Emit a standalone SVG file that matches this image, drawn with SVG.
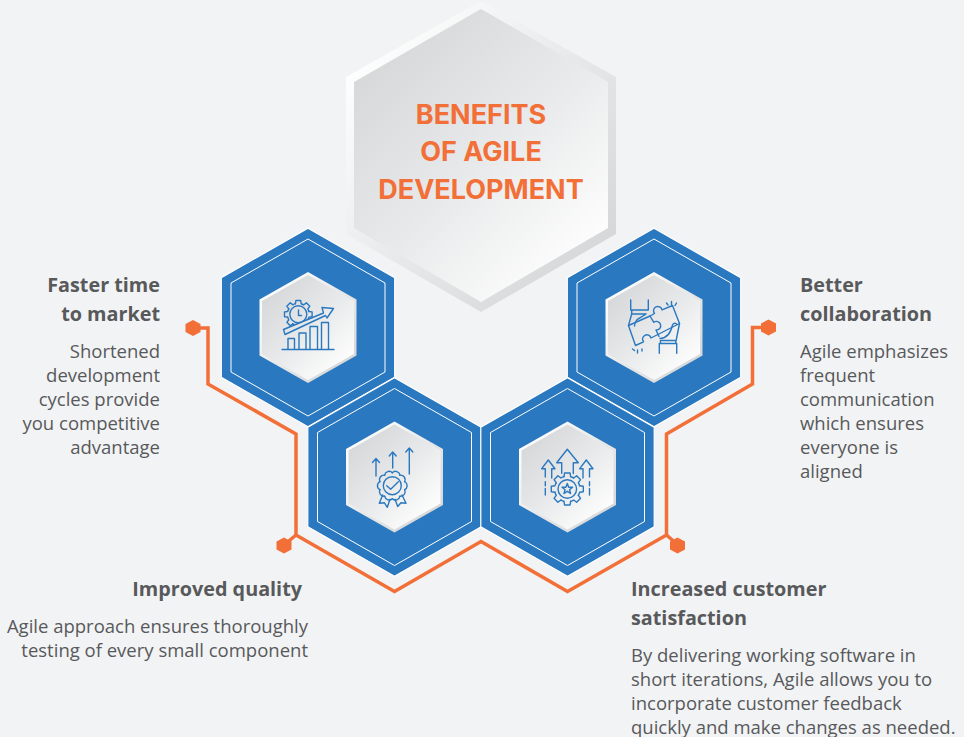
<svg xmlns="http://www.w3.org/2000/svg" xmlns:xlink="http://www.w3.org/1999/xlink" width="964" height="737" viewBox="0 0 964 737">
<style>
text{font-family:"Open Sans","Liberation Sans",sans-serif;fill:#58595b}
.h{font-size:19.800px;font-weight:700}
.b{font-size:18.500px}
.e{text-anchor:end}
.t{font-family:Inter,"Open Sans",sans-serif;font-size:27px;font-weight:700;fill:#f26f37;text-anchor:middle}
.i{fill:none;stroke:#2a78bf;stroke-width:1.400;stroke-linejoin:round;stroke-linecap:round}
.c{fill:none;stroke:#f26f37;stroke-width:3.500;stroke-linejoin:miter}
.d{fill:#f26f37}
</style>
<defs>
<linearGradient id="frame" x1="0.1" y1="0.1" x2="0.9" y2="0.9"><stop offset="0" stop-color="#ffffff"/><stop offset="0.55" stop-color="#e6e7e9"/><stop offset="1" stop-color="#d5d6d8"/></linearGradient>
<linearGradient id="face" x1="0.12" y1="0.1" x2="0.85" y2="0.95"><stop offset="0" stop-color="#d6d7d9"/><stop offset="0.5" stop-color="#e8e9ea"/><stop offset="1" stop-color="#ffffff"/></linearGradient>
<g id="blue">
<polygon points="0,-99.200 86.700,-49.800 86.700,49.800 0,99.200 -86.700,49.800 -86.700,-49.800" fill="#2a78bf" stroke="#ffffff" stroke-width="1.200"/>
<polygon points="0,-88.500 77,-44.500 77,44.500 0,88.500 -77,44.500 -77,-44.500" fill="none" stroke="#ffffff" stroke-width="1"/>
<polygon points="0,-55.500 48.500,-28 48.500,28 0,55.500 -48.500,28 -48.500,-28" fill="url(#frame)"/>
<polygon points="0,-52.500 46,-26.500 46,26.500 0,52.500 -46,26.500 -46,-26.500" fill="url(#face)"/>
</g>
<polygon id="dot" class="d" points="0,-8 7.500,-4 7.500,4 0,8 -7.500,4 -7.500,-4"/>
<path id="tooth" d="M10.600-2.850L13.800-2.400V2.400L10.600 2.850A11 11 0 0 1 9.530 5.500"/>
<g id="gear"><use href="#tooth"/><use href="#tooth" transform="rotate(45)"/><use href="#tooth" transform="rotate(90)"/><use href="#tooth" transform="rotate(135)"/><use href="#tooth" transform="rotate(180)"/><use href="#tooth" transform="rotate(225)"/><use href="#tooth" transform="rotate(270)"/><use href="#tooth" transform="rotate(315)"/></g>
<path id="sc" d="M12.360-4.020A4.500 4.500 0 0 1 12.360 4.020"/>
<clipPath id="gearclip"><polygon points="270,290 330,290 323.500,313 283.500,329.500 270,335"/></clipPath>
</defs>
<rect width="964" height="737" fill="#f2f3f5"/>
<g id="connectors">
<path class="c" d="M193 328H208V384L296 434V535L394.500 591.500L481 541.500L567.500 591.500L666.500 535V434L752.500 384V327.500H768"/>
<path class="c" d="M296 535L284 545M666.500 535L678 545"/>
</g>
<g id="center">
<polygon points="481,1 616,77 616,234 481,312 346,234 346,77" fill="url(#frame)"/>
<polygon points="481,9 608,82 608,228 481,302 354,228 354,82" fill="url(#face)"/>
<text class="t" x="481" y="124">BENEFITS</text>
<text class="t" x="481" y="161">OF AGILE</text>
<text class="t" x="481" y="199">DEVELOPMENT</text>
</g>
<g id="node-speed">
<use href="#blue" x="308" y="327.500"/>
<g class="i">
<path d="M282 349.500H334"/>
<path d="M288 349V338.500H294.500V349M299 349V333H306V349M310 349V326.500H317.500V349M321.500 349V322.500H328.500V349"/>
<path d="M283.500 329.500L323.500 313L322 307.500L333.500 308.500L327 318L325.500 315.500L285 334.500Z"/>
<g clip-path="url(#gearclip)"><use href="#gear" transform="translate(298.300 314.300)"/><circle cx="298.300" cy="314.300" r="8.500"/></g>
<path d="M298.500 310V315.500H301.500"/>
</g>
</g>
<g id="node-collab">
<use href="#blue" x="654" y="327.500"/>
<g class="i">
<path d="M628.500 325.500L650 316L654.500 313.500A4.300 4.300 0 1 1 662 309.800L672.500 305.500L679.500 323.500L651 338A4.300 4.300 0 1 0 643.500 341.800L635.500 345.500Z"/>
<path d="M650 316L653.800 322.300A4.300 4.300 0 1 1 656 330L659 336.500"/>
<path d="M630.700 300V310H648.300V300M631.700 310V314H646M631.700 314L628.500 325.500M646 314C641 318 635 318 634.500 326"/>
<path d="M659.300 353.300V343.500H676.700V353.300M660.500 343.500V340.500H675M675.500 343.500L679.500 323.500M660 338.500C668 338 671 332 672.500 325A2.500 2.500 0 0 1 677 324.500"/>
<path d="M666.500 303L668 305M671.500 301.500V304.500M676.500 303L675 305.500M632.500 349L634.500 350.500M637.500 350V353M642 349L642 351"/>
</g>
</g>
<g id="node-quality">
<use href="#blue" x="394.500" y="477"/>
<g class="i">
<path d="M376 476V459M372.500 462.500L376 458.500L379.500 462.500M392.700 468V452.500M389.200 456L392.700 452L396.200 456M409.300 474V448.500M405.800 452L409.300 448L412.800 452"/>
<g transform="translate(392.300 485.700)"><use href="#sc"/><use href="#sc" transform="rotate(36)"/><use href="#sc" transform="rotate(72)"/><use href="#sc" transform="rotate(108)"/><use href="#sc" transform="rotate(144)"/><use href="#sc" transform="rotate(180)"/><use href="#sc" transform="rotate(216)"/><use href="#sc" transform="rotate(252)"/><use href="#sc" transform="rotate(288)"/><use href="#sc" transform="rotate(324)"/><circle r="9"/></g>
<path d="M386.700 485.700L390.700 489.300L398.300 481.700"/>
<path d="M382.700 495L379.300 503.300L384.300 502.700L387.300 507.300L390 499.300M402 495L406 503.300L401 502.700L397.700 506.500L395 499.300"/>
</g>
</g>
<g id="node-satisfaction">
<use href="#blue" x="567.500" y="477"/>
<g class="i">
<path d="M561.700 473.300V462.700H556.700L567.300 449.300L578.300 462.700H573.300V473.500"/>
<path d="M545.300 477V468.700H541.700L548.300 460L555 468.700H551.700V478M545.300 481.700V485.700M545.300 488.500V495"/>
<path d="M583 478V468.700H579.700L586.300 460L593 468.700H589.500V477M589.500 481.700V485.700M589.500 488.500V495"/>
<g transform="translate(567.300 489)"><use href="#gear" transform="scale(1.160)" stroke-width="1.200"/><circle r="9.300"/><polygon points="0,-5.500 1.400,-1.800 5.300,-1.700 2.200,0.700 3.300,4.500 0,2.300 -3.300,4.500 -2.200,0.700 -5.300,-1.700 -1.400,-1.800"/></g>
</g>
</g>
<g id="label-speed">
<text class="h e" x="160" y="292">Faster time</text>
<text class="h e" x="160" y="321">to market</text>
<text class="b e" x="160" y="358">Shortened</text>
<text class="b e" x="160" y="382">development</text>
<text class="b e" x="160" y="406">cycles provide</text>
<text class="b e" x="160" y="430">you competitive</text>
<text class="b e" x="160" y="454">advantage</text>
<use href="#dot" x="193" y="328"/>
</g>
<g id="label-collab">
<text class="h" x="800" y="292">Better</text>
<text class="h" x="800" y="321">collaboration</text>
<text class="b" x="800" y="358">Agile emphasizes</text>
<text class="b" x="800" y="382">frequent</text>
<text class="b" x="800" y="406">communication</text>
<text class="b" x="800" y="430">which ensures</text>
<text class="b" x="800" y="454">everyone is</text>
<text class="b" x="800" y="478">aligned</text>
<use href="#dot" x="768.500" y="327.500"/>
</g>
<g id="label-quality">
<text class="h e" x="302" y="596">Improved quality</text>
<text class="b e" x="308" y="633">Agile approach ensures thoroughly</text>
<text class="b e" x="308" y="657">testing of every small component</text>
<use href="#dot" x="284" y="545.500"/>
</g>
<g id="label-satisfaction">
<text class="h" x="631" y="596">Increased customer</text>
<text class="h" x="631" y="625">satisfaction</text>
<text class="b" x="631" y="662">By delivering working software in</text>
<text class="b" x="631" y="686">short iterations, Agile allows you to</text>
<text class="b" x="631" y="710">incorporate customer feedback</text>
<text class="b" x="631" y="733.500">quickly and make changes as needed.</text>
<use href="#dot" x="677.500" y="545.500"/>
</g>
</svg>
